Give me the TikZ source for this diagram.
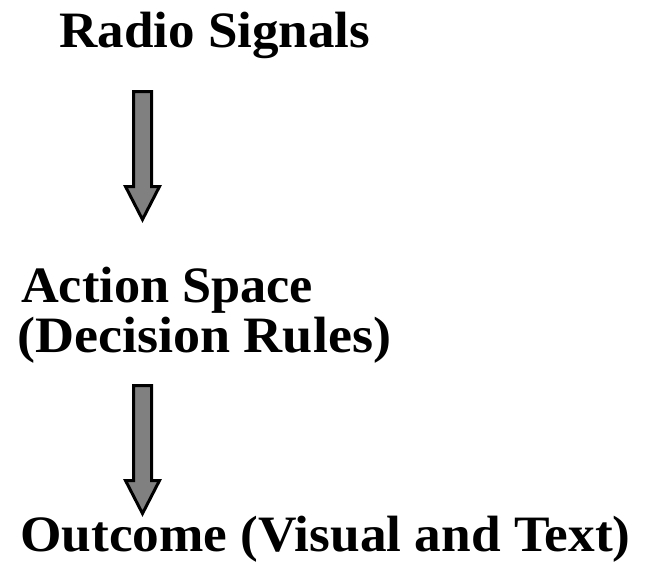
\documentclass[tikz,border=0pt]{standalone}
\usepackage{fontspec}
\setmainfont{Liberation Serif}
\tikzset{
    stage/.style = {anchor = base west, inner sep = 0pt, font = \fontsize{51}{51}\selectfont\bfseries},
    blockarrow/.style = {draw = black, line width = 3pt, fill = gray!100!white, line join = miter},
    downarrow/.pic = {
        \draw[blockarrow] (-9,0) -- (9,0) -- (9,95) -- (17,95) -- (0,128) -- (-17,95) -- (-9,95) -- cycle;
    }
}
\begin{document}
\begin{tikzpicture}[x=1pt, y=-1pt]
            \useasboundingbox (0,0) rectangle (645,562);
            \node[stage] (radio) at (59,47) {\scalebox{1.04}[1]{Radio Signals}};
            \node[stage] (action) at (21,302) {\scalebox{1.025}[1]{Action Space}};
            \node[stage] (rules) at (17,352) {\scalebox{1.06}[1]{(Decision Rules)}};
            \node[stage] (outcome) at (20,551) {\scalebox{1.045}[1]{Outcome (Visual and Text)}};
            \coordinate (a1) at (142.5,91.5);
            \coordinate (a2) at (142.5,385.5);
            \pic at (a1) {downarrow};
            \pic at (a2) {downarrow};
        \end{tikzpicture}
\end{document}
